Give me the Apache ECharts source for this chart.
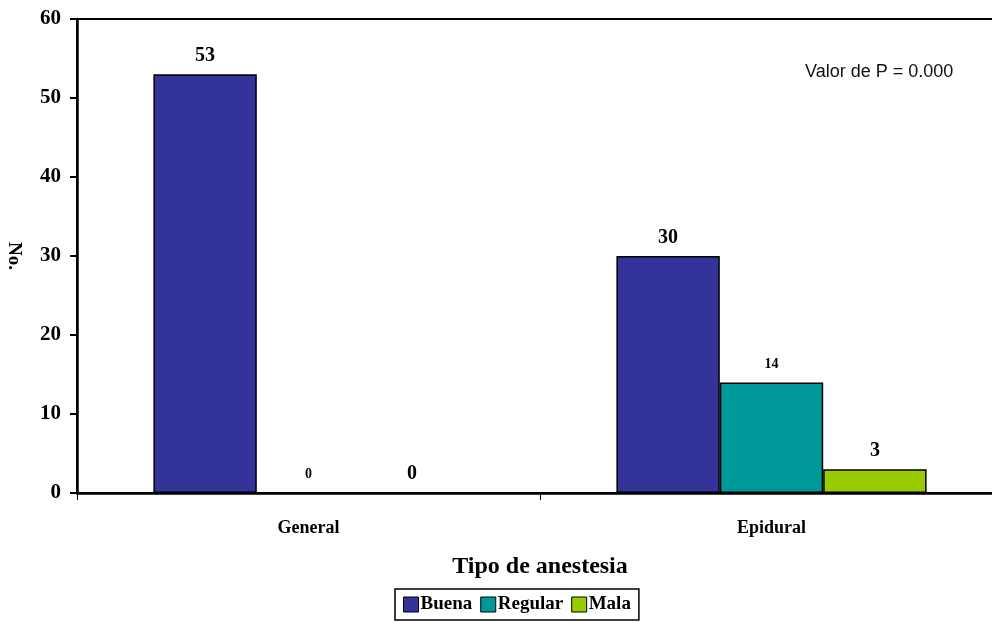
<!DOCTYPE html>
<html>
<head>
<meta charset="utf-8">
<script src="https://cdn.jsdelivr.net/npm/echarts@6/dist/echarts.min.js"></script>
<style>
  html, body { margin: 0; padding: 0; background: #fff; }
  #chart { width: 992px; height: 623px; }
</style>
</head>
<body>
<div id="chart"></div>
<script>
// Categories and counts per rating
const categories = ['General', 'Epidural'];
const seriesNames = ['Buena', 'Regular', 'Mala'];
const buena = [53, 30];
const regular = [0, 14];
const mala = [0, 3];
const yTicks = [0, 10, 20, 30, 40, 50, 60];
const pValueText = 'Valor de P = 0.000';

const colors = ['#333399', '#009999', '#99CC00'];
const serif = '"Liberation Serif", "Times New Roman", serif';

// Regular values are labelled in a smaller type
function toData(values, smallIdx) {
  return values.map((v, i) => ({
    value: v,
    label: smallIdx.includes(i) ? { fontSize: 14, distance: 11 } : {}
  }));
}

function barSeries(name, values, color, smallIdx) {
  return {
    name: name,
    type: 'bar',
    data: toData(values, smallIdx),
    barCategoryGap: '33%',
    barGap: '0%',
    itemStyle: { color: color, borderColor: '#000', borderWidth: 1.5 },
    label: {
      show: true,
      position: 'top',
      distance: 8,
      fontFamily: serif,
      fontWeight: 'bold',
      fontSize: 20,
      color: '#000'
    }
  };
}

const chart = echarts.init(document.getElementById('chart'), null, { renderer: 'canvas' });
chart.setOption({
  animation: false,
  backgroundColor: '#fff',
  grid: {
    left: 77, top: 19, width: 926, height: 474,
    outerBoundsMode: 'none',
    containLabel: false,
    show: true, borderColor: '#000', borderWidth: 2, backgroundColor: 'transparent'
  },
  xAxis: {
    type: 'category',
    data: categories,
    name: 'Tipo de anestesia',
    nameLocation: 'middle',
    nameGap: 62,
    nameTextStyle: { fontFamily: serif, fontWeight: 'bold', fontSize: 24, color: '#000' },
    axisLine: { lineStyle: { color: '#000', width: 2.5 } },
    axisTick: { show: true, length: 7, lineStyle: { color: '#000', width: 1 } },
    axisLabel: { fontFamily: serif, fontWeight: 'bold', fontSize: 18, color: '#000', margin: 26 }
  },
  yAxis: {
    type: 'value',
    min: yTicks[0],
    max: yTicks[yTicks.length - 1],
    interval: yTicks[1] - yTicks[0],
    name: 'No.',
    nameLocation: 'middle',
    nameRotate: -90,
    nameGap: 54,
    nameTextStyle: { fontFamily: serif, fontWeight: 'bold', fontSize: 19, color: '#000' },
    axisLine: { show: true, lineStyle: { color: '#000', width: 2.5 } },
    axisTick: { show: true, length: 7, lineStyle: { color: '#000', width: 2 } },
    splitLine: { show: false },
    axisLabel: { fontFamily: serif, fontWeight: 'bold', fontSize: 21, color: '#000', margin: 16 }
  },
  legend: {
    data: seriesNames,
    left: 395,
    top: 589,
    orient: 'horizontal',
    itemWidth: 15,
    itemHeight: 15,
    itemGap: 8,
    padding: [6, 8, 6, 8],
    borderColor: '#000',
    borderWidth: 1.5,
    icon: 'rect',
    itemStyle: { borderColor: '#000', borderWidth: 1 },
    textStyle: { fontFamily: serif, fontWeight: 'bold', fontSize: 19, color: '#000', padding: [0, 0, 0, -3] }
  },
  graphic: [{
    type: 'text',
    left: 805,
    top: 63,
    style: {
      text: pValueText,
      font: '18px "Liberation Sans", Arial, sans-serif',
      fill: '#111'
    }
  }],
  series: [
    barSeries(seriesNames[0], buena, colors[0], []),
    barSeries(seriesNames[1], regular, colors[1], [0, 1]),
    barSeries(seriesNames[2], mala, colors[2], [])
  ]
});
</script>
</body>
</html>
